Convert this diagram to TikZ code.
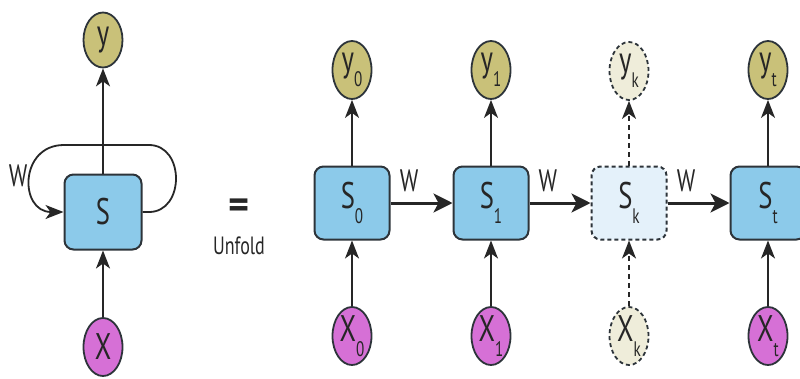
\documentclass[tikz,border=0pt]{standalone}
\usepackage{fontspec}
\setmainfont{PT Sans}
\newfontfamily\lblfont[FakeStretch=0.72]{PT Sans}
\usetikzlibrary{arrows.meta,shapes.geometric,calc}

\definecolor{cellblue}{RGB}{140,202,234}
\definecolor{ghostblue}{RGB}{228,241,250}
\definecolor{edgegray}{RGB}{45,52,58}
\definecolor{ycol}{RGB}{201,193,121}
\definecolor{xcol}{RGB}{214,112,214}
\definecolor{ghostnode}{RGB}{239,237,218}
\definecolor{inkgray}{RGB}{38,38,38}

% subscript set low and to the right of a letter
\newcommand{\lowsub}[1]{\raisebox{-0.4em}{\fontsize{21}{21}\selectfont #1}}

\tikzset{
  x=1pt, y=-1pt,
  txt/.style={text=inkgray, font=\lblfont\fontsize{37}{37}\selectfont, inner sep=0pt},
  cell/.style={txt, rectangle, rounded corners=9pt, draw=edgegray, line width=2pt,
    fill=cellblue, minimum width=75pt, minimum height=73pt},
  ghostcell/.style={cell, fill=ghostblue, dash pattern=on 4pt off 3pt},
  outnode/.style={txt, ellipse, draw=edgegray, line width=1.8pt, fill=ycol,
    minimum width=39pt, minimum height=58pt},
  innode/.style={outnode, fill=xcol},
  ghostout/.style={outnode, fill=ghostnode, dash pattern=on 4pt off 3pt},
  ghostin/.style={ghostout},
  vedge/.style={draw=inkgray, line width=1.8pt, -{Stealth[length=18pt,width=14pt,inset=5pt]}},
  ghostedge/.style={vedge, dash pattern=on 5pt off 4pt},
  hedge/.style={draw=inkgray, line width=3pt, -{Stealth[length=19pt,width=19pt,inset=5pt]}},
  wlabel/.style={text=inkgray, font=\lblfont\fontsize{31}{31}\selectfont, inner sep=0pt},
}

\begin{document}
\begin{tikzpicture}
\useasboundingbox (0,0) rectangle (800,378);

% folded network
\node[cell, minimum width=77pt, minimum height=75pt] (S) at (103,212) {S};
\node[outnode, minimum height=55pt] (Y) at (103,40) {y};
\node[innode] (X) at (103,347) {X};
\draw[vedge] (S) -- (Y);
\draw[vedge] (X) -- (S);

% recurrent loop W: out of the right side, over the top, back into the left side
\coordinate (rA) at ($(S.east)+(6.5,0)$);
\coordinate (rC1) at ($(S.east)+(42.5,0)$);
\coordinate (rC2) at ($(S.east)+(42.5,-67)$);
\coordinate (rB) at ($(S.east)+(6.5,-67)$);
\coordinate (lA) at ($(S.west)+(0.5,-67)$);
\coordinate (lC1) at ($(S.west)+(-44.5,-67)$);
\coordinate (lC2) at ($(S.west)+(-44.5,0)$);
\draw[vedge] (S.east) -- (rA) .. controls (rC1) and (rC2) .. (rB) -- (lA)
  .. controls (lC1) and (lC2) .. (S.west);
\node[wlabel] (Wloop) at (18,176) {W};

% equals sign
\node[text=inkgray, font=\bfseries\fontsize{40}{40}\selectfont, inner sep=0pt] (eq) at (239,209) {=};
\node[text=inkgray, font=\lblfont\fontsize{25}{25}\selectfont, inner sep=0pt] (unfold) at (239,246) {Unfold};

% unfolded network
\node[cell] (S0) at (352,203) {S\lowsub{0}};
\node[cell] (S1) at (491,203) {S\lowsub{1}};
\node[ghostcell] (Sk) at (629,203) {S\lowsub{k}};
\node[cell] (St) at (768,203) {S\lowsub{t}};

\node[outnode] (Y0) at (352,70) {y\lowsub{0}};
\node[outnode] (Y1) at (491,70) {y\lowsub{1}};
\node[ghostout] (Yk) at (629,71) {y\lowsub{k}};
\node[outnode] (Yt) at (768,70) {y\lowsub{t}};

\node[innode] (X0) at (352,336) {X\lowsub{0}};
\node[innode] (X1) at (491,336) {X\lowsub{1}};
\node[ghostin] (Xk) at (629,336) {X\lowsub{k}};
\node[innode] (Xt) at (768,336) {X\lowsub{t}};

\draw[vedge] (S0) -- (Y0);
\draw[vedge] (S1) -- (Y1);
\draw[ghostedge] (Sk) -- (Yk);
\draw[vedge] (St) -- (Yt);

\draw[vedge] (X0) -- (S0);
\draw[vedge] (X1) -- (S1);
\draw[ghostedge] (Xk) -- (Sk);
\draw[vedge] (Xt) -- (St);

\draw[hedge] (S0) -- node[wlabel, pos=0.3, above=10pt] (W1) {W} (S1);
\draw[hedge] (S1) -- node[wlabel, pos=0.3, above=10pt] (W2) {W} (Sk);
\draw[hedge] (Sk) -- node[wlabel, pos=0.3, above=10pt] (W3) {W} (St);
\end{tikzpicture}
\end{document}
